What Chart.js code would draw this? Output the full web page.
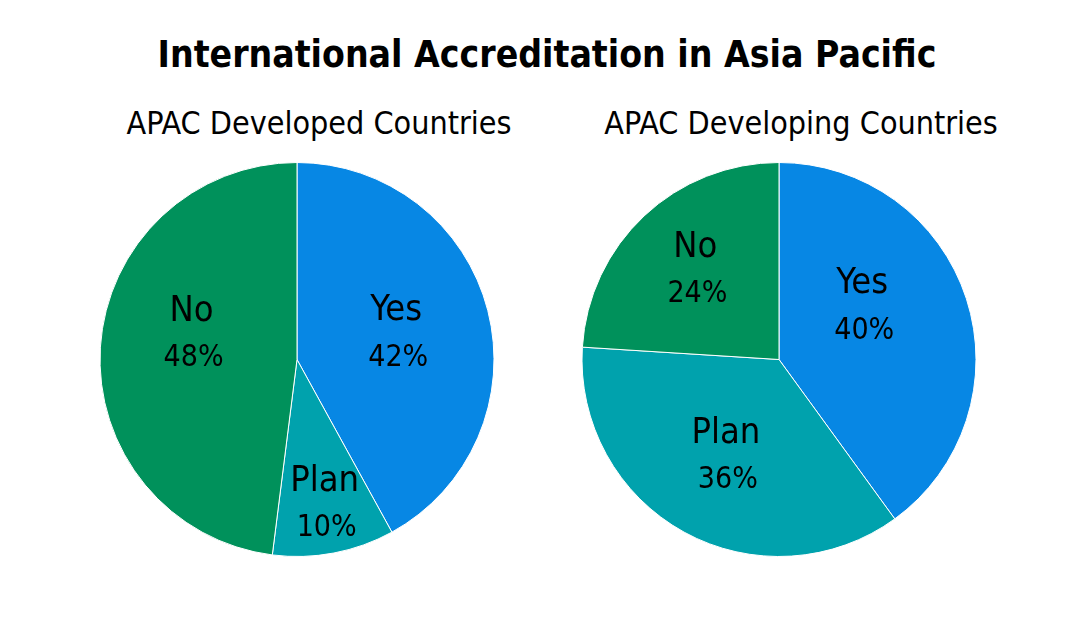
<!DOCTYPE html>
<html>
<head>
<meta charset="utf-8">
<script src="https://cdn.jsdelivr.net/npm/chart.js@4"></script>
<style>
  html, body { margin: 0; padding: 0; background: #fff; }
  body { width: 1074px; height: 621px; position: relative; overflow: hidden;
         font-family: "Liberation Sans Narrow", "DejaVu Sans Condensed", sans-serif; color: #000; }
  #title {
    position: absolute; left: 10px; top: 33px; width: 1074px; text-align: center;
    font-weight: bold; font-size: 37px;
  }
  .sub { position: absolute; top: 104px; width: 482px; text-align: center; font-size: 32px; }
  #s1 { left: 78px; }
  #s2 { left: 560px; }
  .box { position: absolute; top: 162px; width: 482px; height: 400px; }
  #left { left: 56px; }
  #right { left: 538px; }
</style>
</head>
<body>
<div id="title">International Accreditation in Asia Pacific</div>
<div class="sub" id="s1">APAC Developed Countries</div>
<div class="sub" id="s2">APAC Developing Countries</div>
<div class="box" id="left"><canvas id="c1"></canvas></div>
<div class="box" id="right"><canvas id="c2"></canvas></div>
<script>
// data
const categories = ["Yes", "Plan", "No"];
const developedValues = [42, 10, 48];
const developingValues = [40, 36, 24];
const colors = ["#0787E4", "#00A2AD", "#00915B"];

const FONT = '"Liberation Sans Narrow", "DejaVu Sans Condensed", sans-serif';

// draws the category name and percent inside each slice
const sliceLabels = {
    id: "sliceLabels",
    afterDatasetsDraw(chart, args, opts) {
        const ctx = chart.ctx;
        const meta = chart.getDatasetMeta(0);
        const values = chart.data.datasets[0].data;
        ctx.save();
        ctx.fillStyle = "#000";
        ctx.textAlign = "center";
        ctx.textBaseline = "middle";
        meta.data.forEach((arc, i) => {
            const p = arc.getProps(["x", "y", "startAngle", "endAngle", "outerRadius"], true);
            const mid = (p.startAngle + p.endAngle) / 2 + (opts.shift[i] || 0);
            const r = p.outerRadius * opts.radius[i];
            const cx = p.x + Math.cos(mid) * r;
            const cy = p.y + Math.sin(mid) * r;
            ctx.font = "36px " + FONT;
            ctx.fillText(chart.data.labels[i], cx, cy - 23);
            ctx.font = "30px " + FONT;
            ctx.fillText(values[i] + "%", cx + 2, cy + 24);
        });
        ctx.restore();
    }
};

function makePie(id, values, labelOpts) {
    return new Chart(document.getElementById(id), {
        type: "pie",
        data: {
            labels: categories,
            datasets: [{
                data: values,
                backgroundColor: colors,
                borderColor: "#fff",
                borderWidth: 1
            }]
        },
        options: {
            responsive: true,
            maintainAspectRatio: false,
            animation: false,
            layout: { padding: { top: 0, bottom: 5 } },
            plugins: {
                legend: { display: false },
                tooltip: { enabled: false },
                title: { display: false },
                sliceLabels: labelOpts
            }
        },
        plugins: [sliceLabels]
    });
}

makePie("c1", developedValues,
    { radius: [0.52, 0.75, 0.55], shift: [0, 0, 0.17] });
makePie("c2", developingValues,
    { radius: [0.5, 0.56, 0.62], shift: [-0.25, 0, 0] });
</script>
</body>
</html>
